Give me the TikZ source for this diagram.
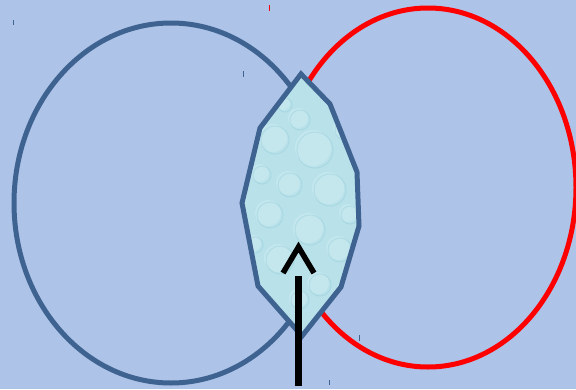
\documentclass[tikz,border=0pt]{standalone}
\usetikzlibrary{arrows.meta}
\definecolor{bg}{RGB}{174,195,232}
\definecolor{vblue}{RGB}{63,99,145}
\definecolor{water}{RGB}{184,225,234}
\definecolor{waterd}{RGB}{150,205,218}
\definecolor{waterl}{RGB}{220,243,247}
\tikzset{
  ring/.style={line width=5pt},
  tick/.style={line width=1pt},
}
\begin{document}
\begin{tikzpicture}[x=1pt,y=-1pt]
\fill[bg] (0,0) rectangle (576,389);
\useasboundingbox (0,0) rectangle (576,389);
% circles
\draw[ring, vblue] (171,203) ellipse [x radius=157, y radius=180];
\draw[ring, red] (428,187.5) ellipse [x radius=148, y radius=179.5];
% intersection
\coordinate (p1) at (301,74);
\coordinate (p2) at (330,104);
\coordinate (p3) at (357,172);
\coordinate (p4) at (359,226);
\coordinate (p5) at (341,287);
\coordinate (p6) at (302,336);
\coordinate (p7) at (258,286);
\coordinate (p8) at (242,203);
\coordinate (p9) at (260,128);
\begin{scope}
\clip (p1)--(p2)--(p3)--(p4)--(p5)--(p6)--(p7)--(p8)--(p9)--cycle;
\fill[water] (230,60) rectangle (370,340);
\foreach \x/\y/\r in {275/140/14, 315/150/18, 290/185/12, 330/190/16, 270/215/13, 310/230/15, 340/250/12, 280/260/14, 320/285/11, 300/120/10, 262/175/9, 345/130/10, 300/300/9, 255/245/8, 350/215/9, 285/105/7}{
  \fill[waterl, opacity=0.35] (\x-2,\y-2) circle (\r);
  \draw[waterd, line width=1pt, opacity=0.45] (\x,\y) circle (\r);
}
\end{scope}
\draw[ring, vblue, line join=miter] (p1)--(p2)--(p3)--(p4)--(p5)--(p6)--(p7)--(p8)--(p9)--cycle;
% arrow
\coordinate (a0) at (298,386);
\coordinate (a1) at (298,276);
\coordinate (tip) at (298.5,247);
\coordinate (al) at (283,273);
\coordinate (ar) at (314,273);
\draw[line width=7pt] (a0)--(a1);
\draw[line width=5.5pt, line join=miter] (al)--(tip)--(ar);
% small ticks
\draw[tick, vblue] (13.5,20)--(13.5,25);
\draw[tick, red] (269,5)--(269,11);
\draw[tick, vblue] (243,71)--(243,77);
\draw[tick, vblue] (359.5,335)--(359.5,341);
\draw[tick, vblue] (329.5,380)--(329.5,385);
\end{tikzpicture}
\end{document}
